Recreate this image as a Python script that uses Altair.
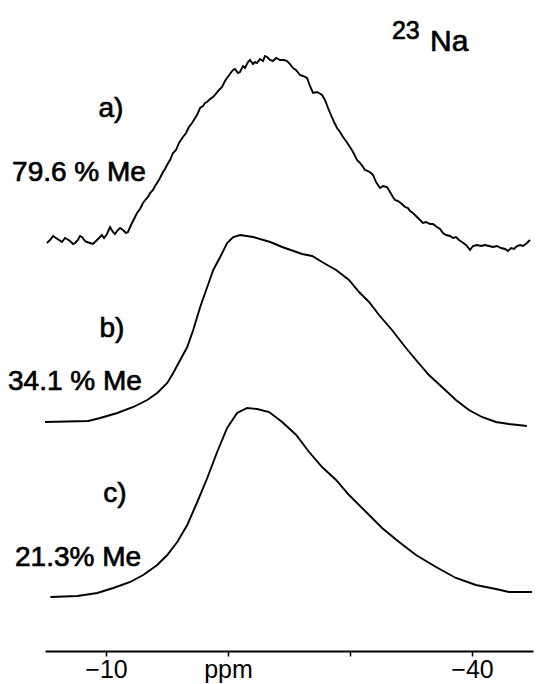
import altair as alt
import pandas as pd

# Spectrum a) 79.6 % Me  (ppm, intensity above its own baseline)
ppm_a = [-5.16, -5.41, -5.66, -5.90, -6.15, -6.39, -6.64, -6.80, -7.05, -7.30,
         -7.46, -7.70, -7.87, -8.03, -8.28, -8.44, -8.69, -8.93, -9.18, -9.43,
         -9.67, -9.84, -10.08, -10.33, -10.57, -10.74, -10.90, -11.15, -11.39, -11.64,
         -11.80, -12.05, -12.30, -12.54, -12.79, -13.03, -13.28, -13.44, -13.61, -13.85,
         -14.02, -14.18, -14.43, -14.67, -14.84, -15.00, -15.25, -15.49, -15.74, -15.98,
         -16.31, -16.56, -16.80, -17.05, -17.30, -17.46, -17.71, -17.95, -18.12, -18.28,
         -18.53, -18.77, -18.93, -19.18, -19.34, -19.51, -19.75, -19.92, -20.16, -20.41,
         -20.57, -20.82, -20.98, -21.23, -21.39, -21.64, -21.80, -22.05, -22.21, -22.38,
         -22.62, -22.87, -23.03, -23.20, -23.44, -23.69, -23.94, -24.26, -24.59, -24.84,
         -25.08, -25.33, -25.57, -25.90, -26.15, -26.48, -26.72, -26.97, -27.30, -27.71,
         -27.95, -28.20, -28.44, -28.69, -28.94, -29.18, -29.43, -29.67, -30.00, -30.25,
         -30.57, -30.82, -31.07, -31.23, -31.48, -31.72, -31.89, -32.13, -32.46, -32.71,
         -33.03, -33.28, -33.52, -33.69, -33.94, -34.26, -34.51, -34.75, -34.92, -35.16,
         -35.41, -35.74, -35.98, -36.23, -36.56, -36.80, -37.13, -37.38, -37.62, -37.87,
         -38.20, -38.44, -38.69, -38.93, -39.18, -39.51, -39.84, -40.08, -40.41, -40.74,
         -41.07, -41.39, -41.72, -42.05, -42.38, -42.71, -42.95, -43.20, -43.44, -43.69,
         -43.94, -44.18, -44.51, -44.75]
int_a = [-1, 2, 6, 4, 2, 0, 4, 3, 1, -2,
         -1, 2, 6, 5, 1, 0, -1, -2, 1, 4,
         7, 4, 8, 15, 10, 8, 11, 14, 12, 9,
         10, 17, 23, 29, 33, 39, 43, 45, 49, 52,
         56, 59, 64, 70, 73, 77, 82, 89, 92, 99,
         105, 109, 115, 119, 124, 127, 134, 136, 139, 140,
         143, 145, 147, 151, 153, 155, 161, 164, 168, 172,
         173, 169, 170, 176, 174, 180, 182, 178, 180, 179,
         183, 181, 186, 185, 182, 181, 184, 182, 182, 181,
         178, 174, 172, 167, 166, 164, 156, 149, 150, 147,
         142, 134, 127, 120, 114, 110, 105, 101, 95, 90,
         82, 79, 75, 72, 71, 69, 67, 60, 54, 56,
         55, 50, 45, 42, 41, 38, 35, 34, 31, 29,
         26, 22, 19, 20, 18, 18, 15, 13, 9, 7,
         6, 4, 5, 2, 0, -3, -8, -4, -3, -4,
         -3, -4, -5, -4, -6, -7, -9, -6, -7, -4,
         -3, -4, -1, 2]

# Spectrum b) 34.1 % Me
ppm_b = [-5.00, -8.55, -9.53, -10.93, -12.24, -13.38, -14.20, -15.02, -15.51, -16.08,
         -16.66, -17.15, -17.72, -18.30, -18.79, -19.36, -19.93, -20.43, -21.00, -22.06,
         -23.46, -24.44, -26.08, -26.90, -27.71, -28.86, -29.92, -30.74, -31.56, -32.38,
         -33.44, -34.59, -35.41, -36.47, -37.54, -38.68, -39.75, -40.81, -41.96, -43.03,
         -44.50]
int_b = [0, 1, 4, 9, 15, 22, 29, 39, 49, 62,
         75, 92, 115, 135, 152, 165, 179, 185, 187, 185,
         180, 175, 168, 166, 160, 152, 142, 130, 120, 107,
         92, 74, 62, 47, 35, 22, 12, 5, 0, -2,
         -4]

# Spectrum c) 21.3 % Me
ppm_c = [-5.44, -7.65, -9.29, -10.60, -11.99, -13.05, -14.20, -15.02, -15.84, -16.66,
         -17.48, -18.30, -19.11, -19.93, -20.75, -21.57, -22.39, -23.37, -24.44, -25.59,
         -26.65, -27.71, -28.86, -29.92, -31.32, -32.63, -34.02, -35.41, -37.05, -38.68,
         -40.32, -41.96, -43.03, -44.91]
int_c = [0, 1, 4, 9, 15, 22, 32, 42, 55, 72,
         95, 119, 145, 169, 184, 189, 188, 185, 175, 162,
         145, 130, 117, 102, 85, 69, 55, 42, 30, 19,
         12, 8, 5, 5]

# vertical stacking offsets of the three traces
offsets = {"a": 409, "b": 229, "c": 54}

# Annotation texts
label_text = ["a)", "79.6 % Me", "b)", "34.1 % Me", "c)", "21.3% Me"]
label_ppm = [-10.41, -2.30, -10.49, -1.97, -10.74, -2.54]
label_y = [534, 470, 314, 261, 149, 85]
label_align = ["center", "left", "center", "left", "center", "left"]

iso_text = ["23", "Na"]
iso_ppm = [-33.44, -36.56]
iso_y = [612, 600]

tick_values = [-10, -20, -30, -40]
tick_labels = ["\u221210", "ppm", "", "\u221240"]

rows = []
for name, px, iy in (("a", ppm_a, int_a), ("b", ppm_b, int_b), ("c", ppm_c, int_c)):
    for p, v in zip(px, iy):
        rows.append({"series": name, "ppm": p, "y": offsets[name] + v})
df = pd.DataFrame(rows)

lab = pd.DataFrame({"text": label_text, "ppm": label_ppm, "y": label_y, "align": label_align})
iso = pd.DataFrame({"text": iso_text, "ppm": iso_ppm, "y": iso_y})

xscale = alt.Scale(domain=[-45, -5], reverse=True, nice=False, zero=False)
yscale = alt.Scale(domain=[0, 641], nice=False, zero=False)

label_expr = " : ".join(
    f"datum.value == {v} ? '{t}'" for v, t in zip(tick_values, tick_labels)
) + " : ''"

FONT = "Liberation Sans"

lines = alt.Chart(df).mark_line(color="black", strokeWidth=1.9, interpolate="linear").encode(
    x=alt.X("ppm:Q", scale=xscale, title=None,
            axis=alt.Axis(values=tick_values, labelExpr=label_expr, grid=False,
                          domainColor="black", domainWidth=1.8, tickColor="black",
                          tickWidth=1.5, tickSize=5, labelPadding=1, labelFontSize=25,
                          labelFont=FONT, labelColor="black",
                          labelFlush=False)),
    y=alt.Y("y:Q", scale=yscale, axis=None),
    detail="series:N",
)

def text_layer(d, align, size):
    return alt.Chart(d).mark_text(align=align, baseline="alphabetic", fontSize=size,
                                  font=FONT, color="black", stroke="black",
                                  strokeWidth=0.7).encode(
        x=alt.X("ppm:Q", scale=xscale),
        y=alt.Y("y:Q", scale=yscale),
        text="text:N",
    )

chart = alt.layer(
    lines,
    text_layer(lab[lab["align"] == "center"], "center", 28),
    text_layer(lab[lab["align"] == "left"], "left", 28),
    text_layer(iso[iso["text"] == "23"], "left", 25),
    text_layer(iso[iso["text"] == "Na"], "left", 30),
).properties(
    width=488, height=641,
    autosize=alt.AutoSizeParams(type="none"),
    padding={"left": 45, "right": 6, "top": 10, "bottom": 33},
    background="white",
).configure_view(stroke=None)

chart.save("out.html", embed_options={"renderer": "svg", "actions": False})
